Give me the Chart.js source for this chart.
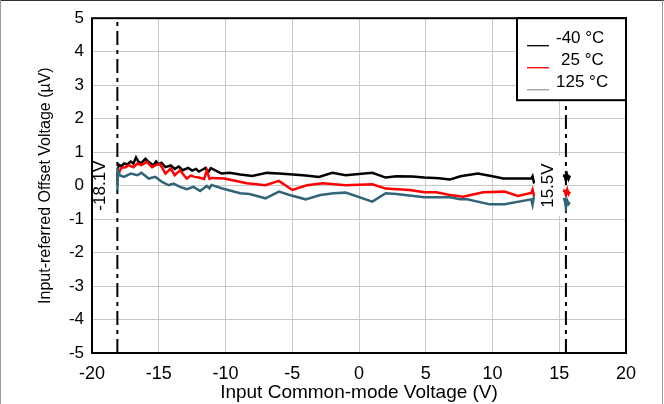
<!DOCTYPE html>
<html>
<head>
<meta charset="utf-8">
<script src="https://cdn.jsdelivr.net/npm/chart.js@4"></script>
<style>
  body { margin: 0; background: #fff; }
  canvas { display: block; }
</style>
</head>
<body>
<canvas id="offsetChart" width="664" height="404"></canvas>
<script>
// series labels
const seriesLabels = ['-40 °C', '25 °C', '125 °C'];

// -40 °C
const coldX = [-18.1, -18.0, -17.8, -17.6, -17.35, -17.1, -16.9, -16.7, -16.5, -16.3,
  -16.0, -15.8, -15.6, -15.4, -15.2, -15.0, -14.8, -14.5, -14.1, -13.8,
  -13.5, -13.2, -12.8, -12.5, -12.2, -12.0, -11.7, -11.5, -11.3, -11.1,
  -10.3, -9.7, -8.9, -8.0, -6.9, -6.0, -5.2, -4.0, -3.0, -2.0,
  -1.0, 0.0, 1.0, 2.0, 2.8, 4.0, 4.9, 6.0, 6.8, 7.6,
  8.9, 10.0, 10.8, 12.0, 12.9, 13.0, 13.1, 14.0, 15.4, 15.5,
  15.6, 15.7, 15.8];
const coldY = [0.45, 0.62, 0.58, 0.66, 0.63, 0.72, 0.66, 0.84, 0.70, 0.68,
  0.80, 0.72, 0.66, 0.60, 0.72, 0.64, 0.68, 0.55, 0.60, 0.50,
  0.57, 0.46, 0.53, 0.45, 0.50, 0.42, 0.48, 0.53, 0.40, 0.52,
  0.36, 0.38, 0.33, 0.29, 0.38, 0.36, 0.34, 0.30, 0.26, 0.38,
  0.31, 0.35, 0.38, 0.24, 0.28, 0.27, 0.24, 0.22, 0.18, 0.28,
  0.36, 0.28, 0.21, 0.21, 0.21, 0.28, 0.10, 0.25, 0.30, 0.15,
  0.32, 0.20, 0.30];

// 25 °C
const roomX = [-18.1, -18.0, -17.8, -17.5, -17.25, -16.9, -16.6, -16.3, -15.9, -15.5,
  -15.2, -14.9, -14.5, -14.1, -13.8, -13.4, -13.1, -12.9, -12.6, -12.3,
  -12.0, -11.6, -11.4, -11.2, -11.0, -10.1, -8.4, -7.0, -6.0, -5.0,
  -3.9, -2.7, -1.0, 1.0, 2.0, 3.8, 4.9, 5.8, 6.8, 7.8,
  9.3, 10.9, 11.9, 12.9, 13.0, 13.1, 14.0, 15.4, 15.5, 15.6,
  15.7, 15.8];
const roomY = [0.25, 0.38, 0.53, 0.55, 0.61, 0.55, 0.66, 0.61, 0.71, 0.55,
  0.62, 0.64, 0.36, 0.51, 0.31, 0.46, 0.30, 0.21, 0.30, 0.26,
  0.24, 0.20, 0.46, 0.20, 0.23, 0.21, 0.07, 0.01, 0.14, -0.13,
  0.01, 0.07, 0.01, 0.04, -0.09, -0.13, -0.20, -0.20, -0.28, -0.33,
  -0.20, -0.18, -0.31, -0.22, -0.12, -0.28, -0.20, -0.15, -0.28, -0.12,
  -0.25, -0.18];

// 125 °C
const hotX = [-18.1, -18.05, -17.9, -17.6, -17.1, -16.6, -16.3, -15.75, -15.25, -14.75,
  -14.25, -13.9, -13.4, -12.9, -12.4, -11.9, -11.4, -11.2, -11.05, -10.3,
  -8.9, -8.2, -7.0, -6.0, -5.2, -4.0, -2.9, -1.9, -1.0, 1.0,
  2.0, 2.8, 4.9, 6.8, 7.6, 8.1, 9.8, 10.9, 12.9, 13.0,
  13.1, 14.0, 15.4, 15.5, 15.6, 15.7, 15.8];
const hotY = [-0.15, 0.45, 0.30, 0.26, 0.36, 0.31, 0.38, 0.21, 0.26, 0.11,
  0.01, 0.06, -0.04, -0.11, -0.04, -0.16, -0.01, -0.08, 0.02, -0.08,
  -0.23, -0.25, -0.38, -0.18, -0.28, -0.41, -0.28, -0.23, -0.21, -0.48,
  -0.23, -0.25, -0.35, -0.35, -0.41, -0.41, -0.56, -0.56, -0.41, -0.57,
  -0.35, -0.45, -0.40, -0.65, -0.45, -0.55, -0.50];

// supply limits (dash-dot markers)
const limitValues = [-18.1, 15.5];
const limitLabels = ['-18.1V', '15.5V'];

const seriesColors = ['#000000', '#ff0000', '#326478'];
const legendColors = ['#000000', '#ff0000', '#a0a0a0'];
const fontFamily = "'Liberation Sans', Arial, sans-serif";

function toPoints(xs, ys) {
  return xs.map((x, i) => ({ x: x, y: ys[i] }));
}

const seriesData = [toPoints(coldX, coldY), toPoints(roomX, roomY), toPoints(hotX, hotY)];

const datasets = seriesData.map((pts, i) => ({
  label: seriesLabels[i],
  data: pts,
  showLine: true,
  borderColor: seriesColors[i],
  borderWidth: 2.5,
  pointRadius: 0,
  tension: 0,
  order: 3 - i
}));

limitValues.forEach(v => {
  datasets.push({
    label: 'limit',
    data: [{ x: v, y: -5 }, { x: v, y: 5 }],
    showLine: true,
    borderColor: '#000',
    borderWidth: 2,
    borderDash: [14, 5, 4, 5],
    pointRadius: 0,
    order: 10
  });
});

// white background, outer frame, plot border, limit labels, legend
const decorations = {
  id: 'decorations',
  beforeDraw(chart) {
    const c = chart.ctx;
    c.save();
    c.fillStyle = '#fff';
    c.fillRect(0, 0, chart.width, chart.height);
    c.restore();
  },
  afterDatasetsDraw(chart) {
    const c = chart.ctx;
    const a = chart.chartArea;
    const xs = chart.scales.x;
    const ys = chart.scales.y;
    const y0 = ys.getPixelForValue(0);
    c.save();

    // limit labels on white boxes
    limitValues.forEach((v, i) => {
      const px = xs.getPixelForValue(v);
      const cx = px - (i === 0 ? 17 : 18);
      const left = i === 0 ? a.left + 1 : px - 31;
      const right = i === 0 ? px - 2 : px - 3;
      c.fillStyle = '#fff';
      c.fillRect(left, y0 - 30, right - left, 60);
      c.translate(cx, y0);
      c.rotate(-Math.PI / 2);
      c.fillStyle = '#000';
      c.font = '17px ' + fontFamily;
      c.textAlign = 'center';
      c.textBaseline = 'middle';
      c.fillText(limitLabels[i], 0, 0);
      c.setTransform(1, 0, 0, 1, 0, 0);
    });

    // plot border
    c.strokeStyle = '#000';
    c.lineWidth = 2;
    c.strokeRect(a.left, a.top, a.right - a.left, a.bottom - a.top);

    // legend box
    const lw = 109, lh = 82;
    const lx = a.right - lw, ly = a.top;
    c.fillStyle = '#fff';
    c.fillRect(lx, ly, lw, lh);
    c.lineWidth = 2;
    c.strokeRect(lx, ly, lw, lh);
    c.font = '17px ' + fontFamily;
    c.textBaseline = 'middle';
    c.textAlign = 'left';
    seriesLabels.forEach((lab, i) => {
      const lineY = ly + 27 + i * 22;
      c.strokeStyle = legendColors[i];
      c.lineWidth = 1.3;
      c.beginPath();
      c.moveTo(lx + 10, lineY + 0.5);
      c.lineTo(lx + 32, lineY + 0.5);
      c.stroke();
      c.fillStyle = '#000';
      const tx = lab.startsWith('25') ? lx + 44 : lx + 39;
      c.fillText(lab, tx, lineY - 7);
    });

    // outer frame
    c.strokeStyle = '#333';
    c.lineWidth = 1;
    c.beginPath();
    c.moveTo(0, 0.5);
    c.lineTo(chart.width, 0.5);
    c.stroke();
    c.strokeStyle = '#999';
    c.beginPath();
    c.moveTo(0.5, 0);
    c.lineTo(0.5, chart.height);
    c.moveTo(chart.width - 1.5, 0);
    c.lineTo(chart.width - 1.5, chart.height);
    c.stroke();
    c.restore();
  }
};

const ctx = document.getElementById('offsetChart').getContext('2d');
const offsetChart = new Chart(ctx, {
  type: 'scatter',
  data: { datasets: datasets },
  plugins: [decorations],
  options: {
    responsive: false,
    animation: false,
    layout: { padding: { left: 0, top: 18, right: 38, bottom: 0 } },
    plugins: {
      legend: { display: false },
      tooltip: { enabled: false }
    },
    scales: {
      x: {
        type: 'linear',
        min: -20,
        max: 20,
        afterFit: s => { s.height = 51; },
        ticks: {
          stepSize: 5,
          color: '#000',
          padding: 10,
          font: { family: fontFamily, size: 18 }
        },
        grid: { color: '#c8c8c8', drawTicks: false },
        border: { display: false },
        title: {
          display: true,
          text: 'Input Common-mode Voltage (V)',
          color: '#000',
          font: { family: fontFamily, size: 19 },
          padding: { top: 0, bottom: 0 }
        }
      },
      y: {
        min: -5,
        max: 5,
        afterFit: s => { s.width = 92; },
        ticks: {
          stepSize: 1,
          color: '#000',
          padding: 8,
          font: { family: fontFamily, size: 17 }
        },
        grid: { color: '#c8c8c8', drawTicks: false },
        border: { display: false },
        title: {
          display: true,
          text: 'Input-referred Offset Voltage (µV)',
          color: '#000',
          font: { family: fontFamily, size: 16 },
          padding: { top: 36, bottom: 0 }
        }
      }
    }
  }
});
</script>
</body>
</html>
